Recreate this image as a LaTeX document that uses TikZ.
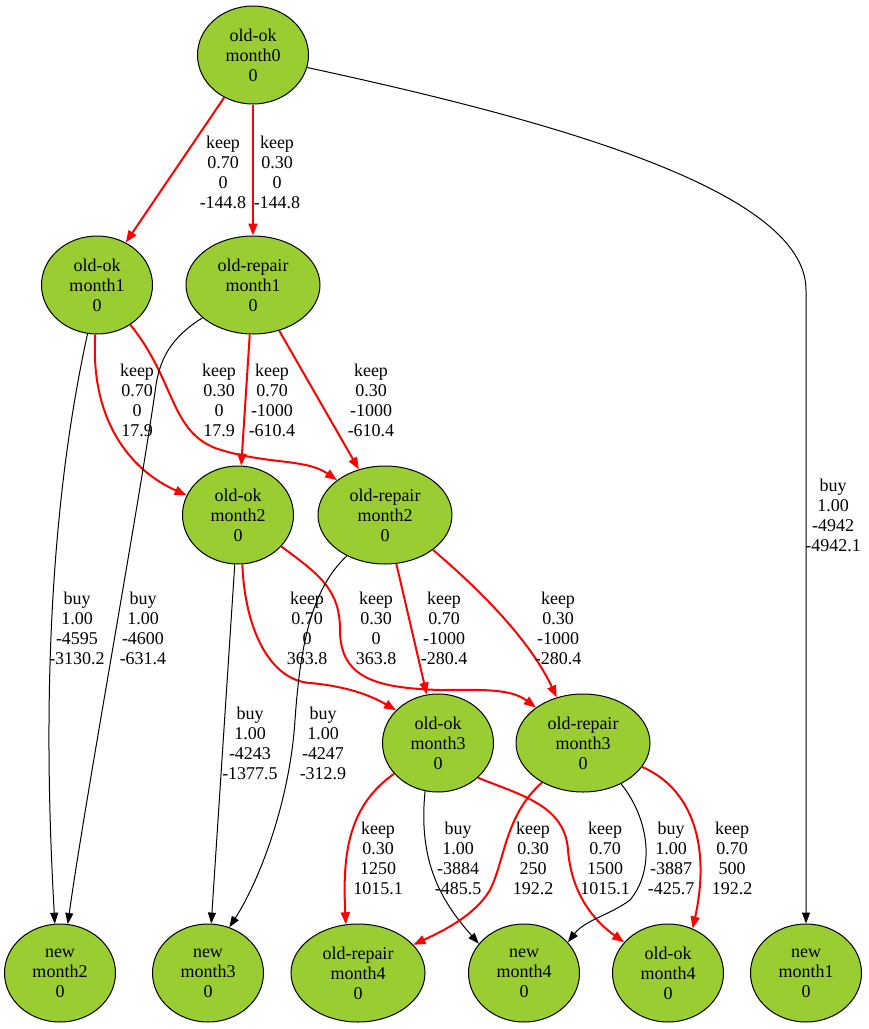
\documentclass[tikz,border=0pt]{standalone}
\usepackage{fontspec}
\setmainfont{Liberation Serif}
\usetikzlibrary{shapes.geometric,arrows.meta}
\definecolor{nodegreen}{HTML}{9ACD32}
\definecolor{edgered}{HTML}{FF0000}
\tikzset{
  st/.style={ellipse, draw=black, line width=1pt, fill=nodegreen, inner sep=0pt,
    minimum width=111pt, minimum height=98pt, align=center,
    font=\fontsize{18}{20}\selectfont},
  stw/.style={st, minimum width=134pt},
  lab/.style={align=center, inner sep=0pt, font=\fontsize{18}{20}\selectfont},
  keepe/.style={draw=edgered, line width=2pt, -{Triangle[length=12pt,width=9pt]}},
  buye/.style={draw=black, line width=1pt, -{Triangle[length=11pt,width=8pt]}},
}
\begin{document}
\begin{tikzpicture}[x=1pt,y=-1pt]
\useasboundingbox (0,0) rectangle (869,1029);
% nodes
\node[st]  (m0)   at (253,55)  {old-ok\\month0\\0};
\node[st]  (ok1)  at (97,285)  {old-ok\\month1\\0};
\node[stw] (rep1) at (253,285) {old-repair\\month1\\0};
\node[st]  (ok2)  at (238,515) {old-ok\\month2\\0};
\node[stw] (rep2) at (385,515) {old-repair\\month2\\0};
\node[st]  (ok3)  at (438,743) {old-ok\\month3\\0};
\node[stw] (rep3) at (583,743) {old-repair\\month3\\0};
\node[st]  (new2) at (60,973)  {new\\month2\\0};
\node[st]  (new3) at (208,973) {new\\month3\\0};
\node[stw] (rep4) at (358,973) {old-repair\\month4\\0};
\node[st]  (new4) at (524,973) {new\\month4\\0};
\node[st]  (ok4)  at (668,973) {old-ok\\month4\\0};
\node[st]  (new1) at (806,973) {new\\month1\\0};
% edges from month0
\draw[keepe] (m0) -- (ok1);
\draw[keepe] (m0) -- (rep1);
\draw[buye] (m0.-13) .. controls (550,120) and (806,190) .. (806,290) -- (new1.north);
% edges from month1
\draw[keepe] (ok1.-92) .. controls (90,420) and (130,470) .. (ok2.159);
\draw[keepe] (ok1.-50) .. controls (175,380) and (170,430) .. (215,448) .. controls (265,465) and (305,458) .. (rep2.144);
\draw[buye] (ok1.-101) .. controls (38,560) and (48,800) .. (new2.96);
\draw[buye] (rep1.-147) .. controls (170,338) and (160,360) .. (156,385) .. controls (140,500) and (85,800) .. (new2.81);
\draw[keepe] (rep1) -- (ok2);
\draw[keepe] (rep1) -- (rep2);
% edges from month2
\draw[keepe] (ok2.-85) .. controls (245,630) and (270,680) .. (310,683) .. controls (345,686) and (370,695) .. (ok3.142);
\draw[keepe] (ok2.-36) .. controls (320,575) and (340,590) .. (340,630) .. controls (340,680) and (380,688) .. (440,690) .. controls (480,690) and (510,688) .. (rep3.143);
\draw[buye] (ok2) -- (new3);
\draw[buye] (rep2.-133) .. controls (310,590) and (300,650) .. (295,720) .. controls (290,800) and (260,880) .. (new3.65);
\draw[keepe] (rep2) -- (ok3);
\draw[keepe] (rep2.-36) .. controls (480,590) and (530,640) .. (rep3.120);
% edges from month3
\draw[keepe] (ok3.-145) .. controls (350,805) and (342,850) .. (rep4.104);
\draw[buye] (ok3.-105) .. controls (418,860) and (440,900) .. (new4.147);
\draw[keepe] (ok3.-41) .. controls (520,795) and (565,805) .. (568,850) .. controls (572,900) and (600,925) .. (ok4.145);
\draw[keepe] (rep3.-136) .. controls (505,815) and (505,860) .. (490,890) .. controls (475,915) and (445,930) .. (rep4.27);
\draw[buye] (rep3.-47) .. controls (650,820) and (655,870) .. (630,900) .. controls (610,915) and (585,920) .. (new4.35);
\draw[keepe] (rep3.-22) .. controls (695,790) and (710,850) .. (ok4.61);
% labels
\node[lab] (l1)  at (223,172) {keep\\0.70\\0\\-144.8};
\node[lab] (l2)  at (277,172) {keep\\0.30\\0\\-144.8};
\node[lab] (l3)  at (833,515) {buy\\1.00\\-4942\\-4942.1};
\node[lab] (l4)  at (137,400) {keep\\0.70\\0\\17.9};
\node[lab] (l5)  at (219,400) {keep\\0.30\\0\\17.9};
\node[lab] (l6)  at (272,400) {keep\\0.70\\-1000\\-610.4};
\node[lab] (l7)  at (371,400) {keep\\0.30\\-1000\\-610.4};
\node[lab] (l8)  at (77,628)  {buy\\1.00\\-4595\\-3130.2};
\node[lab] (l9)  at (143,628) {buy\\1.00\\-4600\\-631.4};
\node[lab] (l10) at (307,628) {keep\\0.70\\0\\363.8};
\node[lab] (l11) at (376,628) {keep\\0.30\\0\\363.8};
\node[lab] (l12) at (444,628) {keep\\0.70\\-1000\\-280.4};
\node[lab] (l13) at (558,628) {keep\\0.30\\-1000\\-280.4};
\node[lab] (l14) at (250,743) {buy\\1.00\\-4243\\-1377.5};
\node[lab] (l15) at (323,743) {buy\\1.00\\-4247\\-312.9};
\node[lab] (l16) at (378,858) {keep\\0.30\\1250\\1015.1};
\node[lab] (l17) at (458,858) {buy\\1.00\\-3884\\-485.5};
\node[lab] (l18) at (533,858) {keep\\0.30\\250\\192.2};
\node[lab] (l19) at (605,858) {keep\\0.70\\1500\\1015.1};
\node[lab] (l20) at (671,858) {buy\\1.00\\-3887\\-425.7};
\node[lab] (l21) at (732,858) {keep\\0.70\\500\\192.2};
\end{tikzpicture}
\end{document}
